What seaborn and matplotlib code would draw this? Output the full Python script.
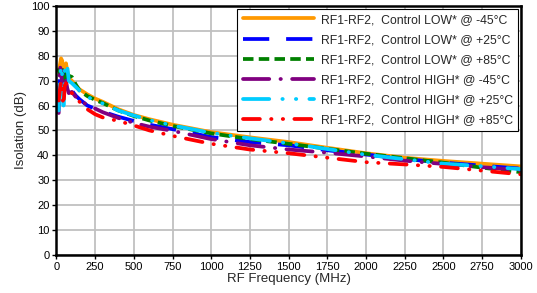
import matplotlib
matplotlib.use("Agg")
import matplotlib.pyplot as plt
import seaborn as sns
import pandas as pd

# values (MHz, dB)
FREQ = [15, 22, 30, 38, 46, 54, 62, 70, 80, 100, 125, 150, 200, 250, 300, 400,
        500, 600, 750, 1000, 1250, 1500, 1750, 2000, 2250, 2500, 2750, 3000]

LOW_M45 = [74, 76, 79, 78, 64, 72, 77, 74, 71, 70, 68, 66.5, 64.5, 62.8, 61.5, 58.5,
           56.2, 54.5, 52.3, 49.3, 47.2, 45.3, 43, 40.8, 39, 37.7, 36.6, 35.5]
LOW_P25 = [60, 72, 76, 75, 62, 70, 74, 68, 66, 66, 64, 62.5, 60, 58.7, 57.5, 55.5,
           53.8, 52.3, 50.5, 47.3, 45.3, 44, 42, 40.3, 38.5, 37, 35.8, 34.6]
LOW_P85 = [75, 73, 76, 74, 65, 70, 74, 72, 72, 71.5, 68.5, 66, 63.8, 62.3, 61, 58,
           55.8, 54, 51.8, 48.8, 46.5, 44.6, 42.6, 40.6, 38.8, 37, 35, 33.2]
HIGH_M45 = [57, 76, 74, 68, 62, 66, 70, 67, 65, 65.5, 63.5, 62, 60.3, 58.8, 57.3, 55,
            53, 51.5, 49.8, 46.5, 44, 42.3, 41, 39.5, 37.8, 36.5, 35.2, 34]
HIGH_P25 = [58, 70, 76, 72, 60, 74, 77, 76, 70, 69, 67.5, 66, 63.5, 62, 60.8, 58,
            56, 54.2, 52, 49, 46.8, 44.8, 42.5, 40.2, 38.4, 36.6, 35.6, 34.4]
HIGH_P85 = [62, 66, 70, 64, 60, 68, 69, 67, 66, 65, 63, 61.5, 58.5, 56.5, 55.2, 53.8,
            52, 50, 47.8, 44.6, 42.3, 40.8, 39, 37.2, 36.3, 35.3, 33.8, 32.3]

LABELS = ["RF1-RF2,  Control LOW* @ -45°C", "RF1-RF2,  Control LOW* @ +25°C",
          "RF1-RF2,  Control LOW* @ +85°C", "RF1-RF2,  Control HIGH* @ -45°C",
          "RF1-RF2,  Control HIGH* @ +25°C", "RF1-RF2,  Control HIGH* @ +85°C"]

STYLES = [
    ("#ff9900", "-", "butt"),
    ("#0000ff", (0, (7, 4.5)), "butt"),
    ("#008000", (0, (2.8, 1.4)), "butt"),
    ("#800080", (0, (7, 3, 0.1, 3)), "round"),
    ("#00ccff", (0, (7, 3.5, 0.1, 3.5, 0.1, 3.5)), "round"),
    ("#ff0000", (0, (4.5, 3, 0.1, 3, 0.1, 3)), "round"),
]

sns.set_style("white")
plt.rcParams["font.family"] = ["Liberation Sans", "DejaVu Sans"]

fig = plt.figure(figsize=(5.37, 2.93), dpi=100)
ax = fig.add_axes([0.105, 0.131, 0.865, 0.848])

series = [LOW_M45, LOW_P25, LOW_P85, HIGH_M45, HIGH_P25, HIGH_P85]
for vals, label, (color, ls, cap) in zip(series, LABELS, STYLES):
    df = pd.DataFrame({"freq": FREQ, "iso": vals})
    sns.lineplot(data=df, x="freq", y="iso", ax=ax, color=color, lw=2.7,
                 linestyle=ls, dash_capstyle=cap, label=label,
                 estimator=None, sort=False)

ax.set_xlim(0, 3000)
ax.set_ylim(0, 100)
ax.set_xticks(range(0, 3001, 250))
ax.set_yticks(range(0, 101, 10))
ax.grid(True, color="#c0c0c0", lw=1.3)
ax.set_axisbelow(True)
ax.tick_params(direction="out", length=3, width=1, colors="black",
               labelsize=8, bottom=True, left=True, pad=2)
for s in ax.spines.values():
    s.set_color("black")
    s.set_linewidth(1.8)

ax.set_xlabel("RF Frequency (MHz)", fontsize=9.5, labelpad=1)
ax.set_ylabel("Isolation (dB)", fontsize=9.5, labelpad=3)

leg = ax.legend(loc="upper right", bbox_to_anchor=(0.994, 0.99), fontsize=8.8,
                frameon=True, fancybox=False, handlelength=5.8, handletextpad=0.6,
                labelspacing=0.66, borderpad=0.42, borderaxespad=0)
leg.get_frame().set_edgecolor("black")
leg.get_frame().set_linewidth(0.8)
leg.get_frame().set_alpha(1)

fig.savefig("out.png", dpi=100)
